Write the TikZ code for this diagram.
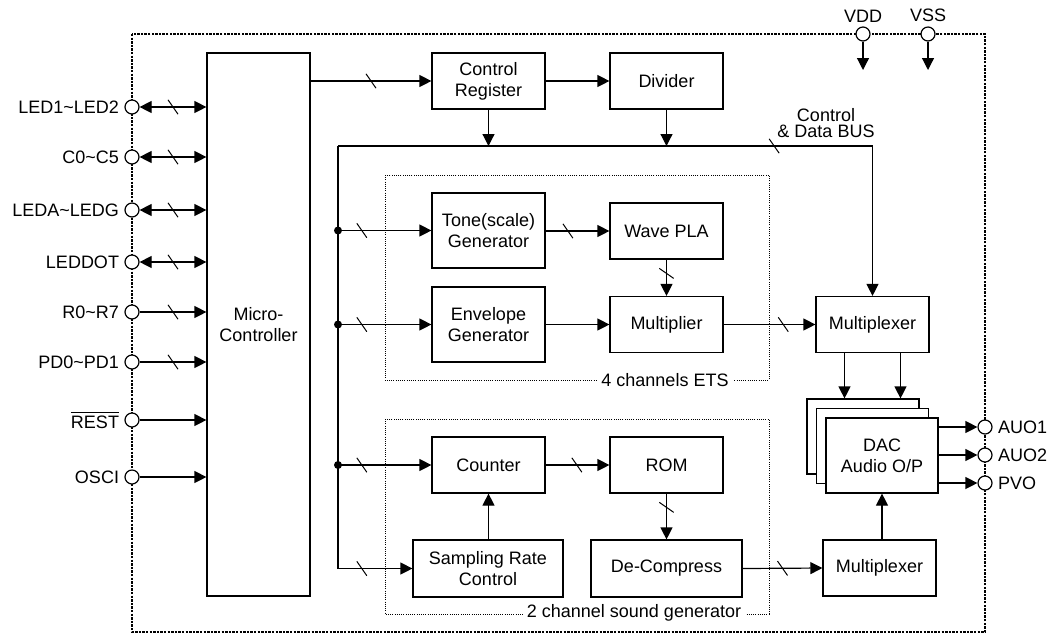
\documentclass[tikz,border=0pt]{standalone}
\usepackage{fontspec}
\setmainfont{Liberation Sans}
\usetikzlibrary{arrows.meta}
\begin{document}
\begin{tikzpicture}[x=0.5pt,y=-0.5pt,
  every node/.style={font=\fontsize{9pt}{10.5pt}\selectfont},
  box/.style={draw,line width=0.6pt,fill=white,align=center,inner sep=0pt},
  wire/.style={line width=0.6pt},
  arr/.style={wire,-{Triangle[length=6pt,width=6pt]}},
  barr/.style={wire,{Triangle[length=6pt,width=6pt]}-{Triangle[length=6pt,width=6pt]}},
  pinc/.style={circle,draw,line width=0.6pt,fill=white,minimum size=7pt,inner sep=0pt},
  dot/.style={circle,fill,minimum size=4pt,inner sep=0pt},
  lbl/.style={inner sep=1pt},
  grp/.style={line width=0.4pt,dash pattern=on 0.5pt off 0.6pt},
  slashmark/.pic={\draw[-,line width=0.5pt] (-2.5pt,3.6pt) -- (2.5pt,-3.6pt);},
  slashv/.pic={\draw[-,line width=0.5pt] (-3.6pt,2.5pt) -- (3.6pt,-2.5pt);}
]
\useasboundingbox (0,0) rectangle (1054,634);

% chip outline
\draw[line width=0.6pt,dash pattern=on 1.2pt off 0.6pt] (132,34) rectangle (985,632);

% functional groups
\draw[grp] (385,175) rectangle (769,380);
\draw[grp] (385,419) rectangle (769,614);
\node[fill=white,inner sep=2pt] (etslbl) at (665,380) {4 channels ETS};
\node[fill=white,inner sep=2pt] (sndlbl) at (634,613) {2 channel sound generator};

% blocks
\node[box,minimum width=51.5pt,minimum height=271.5pt] (mcu) at (258.5,324.5) {Micro-\\Controller};
\node[box,minimum width=56.5pt,minimum height=28pt] (creg) at (488.5,81) {Control\\Register};
\node[box,minimum width=56.5pt,minimum height=28pt] (div) at (666.5,81) {Divider};
\node[box,minimum width=56.5pt,minimum height=37.5pt] (tone) at (488.5,230.5) {Tone(scale)\\Generator};
\node[box,minimum width=56.5pt,minimum height=28pt] (wave) at (666.5,231) {Wave PLA};
\node[box,minimum width=56.5pt,minimum height=37.5pt] (env) at (488.5,324.5) {Envelope\\Generator};
\node[box,minimum width=56.5pt,minimum height=28pt] (mult) at (666.5,324.5) {Multiplier};
\node[box,minimum width=56.5pt,minimum height=28pt] (mux1) at (872.5,324.5) {Multiplexer};
\node[box,minimum width=56.5pt,minimum height=28pt] (cnt) at (488.5,465) {Counter};
\node[box,minimum width=56.5pt,minimum height=28pt] (rom) at (666.5,465) {ROM};
\node[box,minimum width=75pt,minimum height=28.5pt] (src) at (488,568.5) {Sampling Rate\\Control};
\node[box,minimum width=75.5pt,minimum height=28.5pt] (dec) at (666.5,568.5) {De-Compress};
\node[box,minimum width=56.5pt,minimum height=28pt] (mux2) at (879.5,568) {Multiplexer};
% stacked DAC
\node[box,minimum width=56pt,minimum height=37.5pt] (dac3) at (863,436.5) {};
\node[box,minimum width=56pt,minimum height=37.5pt] (dac2) at (872.5,446) {};
\node[box,minimum width=56pt,minimum height=37.5pt] (dac) at (882,455.5) {DAC\\Audio O/P};

% left pins
\foreach \n/\y/\t in {p1/107/LED1\textasciitilde LED2, p2/157/C0\textasciitilde C5,
  p3/210/LEDA\textasciitilde LEDG, p4/262/LEDDOT, p5/312/R0\textasciitilde R7,
  p6/362/PD0\textasciitilde PD1, p7/420/$\overline{\hbox{REST}}$, p8/477/OSCI}{
  \node[pinc] (\n) at (132,\y) {};
  \node[lbl,anchor=east] (\n l) at ([xshift=-1.5pt]\n.west) {\t};
}
\foreach \n in {p1,p2,p3,p4}
  \draw[barr] (\n.east) -- pic[pos=0.5]{slashmark} (\n.east -| mcu.west);
\foreach \n in {p5,p6}
  \draw[arr] (\n.east) -- pic[pos=0.5]{slashmark} (\n.east -| mcu.west);
\foreach \n in {p7,p8}
  \draw[arr] (\n.east) -- (\n.east -| mcu.west);

% supply pins
\node[pinc] (vdd) at (863,34) {};
\node[pinc] (vss) at (928,34) {};
\node[lbl,anchor=south] (vddl) at ([yshift=1pt]vdd.north) {VDD};
\node[lbl,anchor=south] (vssl) at ([yshift=1pt]vss.north) {VSS};
\coordinate (vddend) at (863,70);
\coordinate (vssend) at (928,70);
\draw[arr] (vdd.south) -- (vddend);
\draw[arr] (vss.south) -- (vssend);

% output pins
\node[pinc] (o1) at (985,427) {};
\node[pinc] (o2) at (985,455) {};
\node[pinc] (o3) at (985,483) {};
\node[lbl,anchor=west] (o1l) at ([xshift=1.5pt]o1.east) {AUO1};
\node[lbl,anchor=west] (o2l) at ([xshift=1.5pt]o2.east) {AUO2};
\node[lbl,anchor=west] (o3l) at ([xshift=1.5pt]o3.east) {PVO};
\foreach \n in {o1,o2,o3}
  \draw[arr] (\n.west -| dac.east) -- (\n.west);

% control path
\draw[arr] (mcu.east |- creg.west) -- pic[pos=0.5]{slashmark} (creg.west);
\draw[arr] (creg.east) -- (div.west);

% control & data bus
\coordinate (busL) at (338,146);
\coordinate (busR) at (mux1.north |- busL);
\draw[arr] (creg.south) -- (creg.south |- busL);
\draw[arr] (div.south) -- (div.south |- busL);
\draw[arr] (busL) -- pic[pos=0.816]{slashmark} (busR) -- (mux1.north);
\node[align=center,inner sep=0pt,font=\fontsize{9pt}{8pt}\selectfont] (busl) at (826,123) {Control\\\& Data BUS};
\draw[arr] (busL) -- (busL |- src.west) -- pic[pos=0.32]{slashmark} (src.west);
\node[dot] (t1) at (busL |- tone.west) {};
\node[dot] (t2) at (busL |- env.west) {};
\node[dot] (t3) at (busL |- cnt.west) {};
\draw[arr] (t1.center) -- pic[pos=0.255]{slashmark} (tone.west);
\draw[arr] (t2.center) -- pic[pos=0.255]{slashmark} (env.west);
\draw[arr] (t3.center) -- pic[pos=0.255]{slashmark} (cnt.west);

% ETS channel
\draw[arr] (tone.east |- wave.west) -- pic[pos=0.35]{slashmark} (wave.west);
\draw[arr] (wave.south) -- pic[pos=0.38]{slashv} (mult.north);
\draw[arr] (env.east |- mult.west) -- (mult.west);
\draw[arr] (mult.east) -- pic[pos=0.65]{slashmark} (mux1.west);
\draw[arr] ([xshift=-14pt]mux1.south) -- ([xshift=-14pt]mux1.south |- dac3.north);
\draw[arr] ([xshift=14pt]mux1.south) -- ([xshift=14pt]mux1.south |- dac3.north);

% sound generator
\draw[arr] (cnt.east) -- pic[pos=0.49]{slashmark} (rom.west);
\draw[arr] (rom.south) -- pic[pos=0.3]{slashv} (dec.north);
\draw[arr] (src.north -| cnt.south) -- (cnt.south);
\draw[arr] (dec.east) -- pic[pos=0.5]{slashmark} (mux2.west);
\draw[arr] (mux2.north -| dac.south) -- (dac.south);
\end{tikzpicture}
\end{document}
